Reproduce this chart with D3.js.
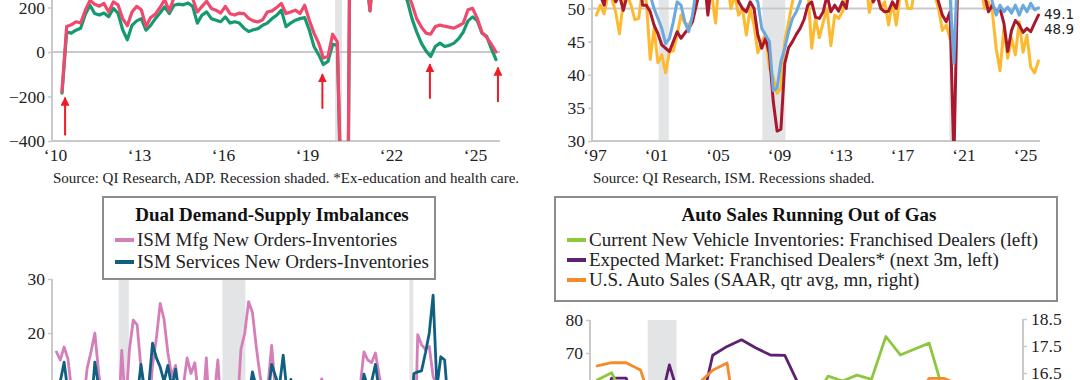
<!DOCTYPE html>
<html>
<head>
<meta charset="utf-8">
<script src="https://cdn.jsdelivr.net/npm/d3@7"></script>
<style>
  body { margin: 0; background: #fff; }
  svg { display: block; }
</style>
</head>
<body>
<svg width="1080" height="380"></svg>
<script>
// ---- top left: ADP payrolls (bimonthly points from 2010.25)
const adpStart = 2010.25, adpStep = 1 / 6;
const adpTotal = [-178, 115, 122, 136, 130, 188, 232, 215, 206, 218, 180, 225, 212, 150, 118, 180,
  205, 190, 115, 155, 170, 200, 235, 185, 245, 260, 250, 265, 240, 180, 205, 228, 196, 188, 175,
  205, 172, 166, 175, 173, 151, 140, 135, 145, 180, 185, 200, 218, 173, 180, 188, 173, 210, 143,
  85, 40, -27, -20, 80, 45, -800, -1500, 1500, 700, 450, 400, 185, 450, 430, 380, 420, 350, 330,
  300, 270, 215, 150, 112, 85, 80, 114, 121, 116, 112, 107, 118, 130, 190, 196, 150, 88, 66, 35, 0];
const adpExEdHealth = [-185, 90, 85, 98, 107, 170, 210, 173, 166, 175, 158, 196, 175, 100, 55, 120,
  140, 150, 98, 120, 150, 175, 203, 173, 210, 215, 212, 220, 205, 130, 166, 180, 150, 143, 136,
  158, 130, 136, 130, 107, 92, 100, 105, 120, 130, 150, 165, 188, 114, 130, 143, 150, 155, 98,
  25, -12, -56, -42, 35, 30, -850, -1550, 1400, 650, 420, 380, 185, 420, 400, 350, 390, 320, 300,
  270, 230, 150, 90, 40, 5, -20, 25, 40, 25, 30, 40, 60, 90, 140, 158, 140, 85, 70, 15, -34];
// [date, arrow head value, arrow tail value]
const adpArrows = [[2010.36, -205, -375], [2019.55, -100, -255], [2023.39, -55, -210], [2025.82, -70, -225]];
const adpTicksX = [2010, 2013, 2016, 2019, 2022, 2025];
const adpTicksY = [-400, -200, 0, 200];
const adpRecessions = [[2020.0, 2020.25]];

// ---- top right: ISM (quarterly from 1997)
const ismStart = 1997.125, ismStep = 0.25;
const ismYellow = [49.0, 50.5, 49.2, 52.0, 51.5, 49.5, 46.2, 51.0, 52.0, 50.5, 48.3, 48.5,
  53.0, 51.0, 42.3, 47.0, 41.8, 43.0, 40.3, 43.5, 43.6, 46.0, 49.0, 47.8, 47.5, 48.5, 51.0, 53.0,
  56.0, 54.0, 52.0, 47.8, 55.0, 53.0, 54.0, 50.0, 52.0, 49.0, 50.0, 46.0, 50.0, 47.5, 43.3, 45.0,
  46.0, 41.0, 39.6, 37.2, 38.0, 45.0, 48.0, 51.0, 53.0, 55.0, 52.0, 53.0, 44.0, 48.5, 45.6, 47.9,
  50.0, 44.4, 49.0, 48.5, 49.5, 52.0, 53.0, 55.0, 51.5, 54.0, 55.0, 49.4, 52.0, 53.0, 50.0, 51.0,
  47.5, 51.0, 47.5, 52.0, 53.0, 50.0, 50.0, 54.0, 54.0, 53.0, 55.0, 52.0, 52.0, 50.0, 46.7, 47.5,
  45.4, 44.0, 52.0, 54.0, 55.0, 56.0, 53.0, 54.0, 53.0, 50.0, 51.0, 49.5, 44.0, 40.6, 47.0, 42.5,
  45.5, 43.0, 48.0, 43.4, 46.0, 41.1, 40.3, 42.1];
const ismRed = [53, 52, 50.5, 54, 53, 51, 52, 49.7, 52, 54, 55, 56, 50.5, 50.5, 49.5, 47.5,
  46.2, 44.5, 44.0, 43.5, 45.0, 46.5, 45.5, 46.3, 47.0, 48.0, 50.5, 53.0, 55.0, 49.0, 54.0, 56.0,
  55.0, 52.0, 54.0, 55.0, 53.0, 51.0, 50.0, 49.5, 51.0, 50.0, 46.0, 44.0, 45.5, 43.2, 36.0, 31.5,
  31.8, 41.7, 44.1, 45.0, 46.1, 47.0, 48.3, 50.5, 51.0, 48.7, 48.5, 49.5, 52.0, 49.5, 50.5, 49.6,
  51.0, 50.0, 54.0, 55.0, 53.0, 55.0, 56.0, 54.0, 51.0, 52.0, 50.0, 49.5, 49.6, 51.0, 50.0, 53.0,
  56.0, 55.0, 57.0, 58.0, 58.0, 58.0, 57.0, 55.0, 53.0, 51.0, 49.0, 48.0, 49.5, 27.0, 55.0, 58.0,
  60.0, 61.0, 59.0, 59.0, 57.0, 52.0, 49.5, 50.5, 49.5, 50.0, 47.8, 43.5, 46.7, 48.2, 47.5, 46.4,
  47.0, 46.5, 47.8, 49.0];
const ismBlue = [55, 56, 54, 55, 56, 55, 53, 54, 55, 56, 57, 58, 58, 57, 52, 50,
  48.5, 47, 44.7, 45.5, 48, 51, 50.5, 48, 46.5, 49, 53, 55, 56, 57, 56, 57, 57, 56, 57, 56,
  55, 54, 53, 52, 52, 52, 51, 47, 46, 45, 37.6, 38, 42, 44, 46.5, 48.5, 49.5, 51, 54, 55,
  55, 54, 53, 53, 54, 53, 53, 54, 55, 54, 55, 55, 54, 56, 57, 57, 56, 56, 57, 55, 54, 53, 52, 55,
  56, 56, 57, 56, 58, 58, 58, 56, 55, 55, 53, 53, 52, 41.7, 57, 56, 58, 62, 61, 62, 58, 55, 54, 51,
  49.0, 50.5, 49.5, 50.2, 49.3, 50.5, 49.0, 50.5, 49.5, 50.8, 49.8, 50.1];
const ismTicksX = [1997, 2001, 2005, 2009, 2013, 2017, 2021, 2025];
const ismTicksY = [30, 35, 40, 45, 50];
const recessions = [[2001.17, 2001.83], [2007.92, 2009.42], [2020.08, 2020.33]];
const ismEndLabels = ["49.1", "48.9"];

// ---- bottom left: new orders minus inventories (quarterly from 1997)
const mfgNoInv = [16.5, 15.0, 17.4, 15.2, 9, 6, 4, 7, 13.5, 16.5, 20.0, 12.5, 8, 5, 2, -2,
  2, 16.8, 6, 17, 22.4, 21.5, 13.5, 9, 5, 14, 19, 25.5, 22.5, 16.3, 12, 14, 8, 10, 15.4, 12.5,
  14.5, 8, 5, 15.4, 3, 8, 15.0, 4, 2, -3, -6, 5, 17, 20, 25.8, 23.8, 17.4, 12, 8, 10,
  17.7, 9, 4, 8, 11, 5, 2, 6, 9, 8, 11, 10, 9, 11.5, 10, 8, 4, 2, 5, 1, 6, 8, 4, 10,
  16.5, 15, 14.5, 16.3, 12, 9, 10, 6, 2, 0, -2, 1, 3, -8, 19.7, 17.8, 17, 17.5, 12, 10,
  8, 3, -3, -5, -4, -6, -3, 0, 2, -2, 1, -3, 4, 2, 0, 1];
const svcNoInv = [10, 11, 14.6, 9, 5, 7, 4, 6, 8, 6, 14.6, 10, 6, 3, 2, 0,
  -2, -4, 0, 3, 6, 8, 14.2, 9, 10, 18.1, 15.4, 13.7, 11, 14.0, 10, 13.3, 8, 7, 6, 9,
  5, 3, 6, 4, 2, 5, 3, 1, -2, -4, -8, -6, -3, 4, 8, 12.8, 10, 9, 11, 8,
  14.2, 12, 10, 15.9, 9, 11.4, 6, 7, 8, 10, 9, 11, 9, 10, 8, 11, 7, 9, 10, 8, 6, 8, 9, 7,
  12.4, 10, 11, 14.2, 9, 10, 8, 7, 6, 5, 3, 4, 2, 12.5, 12.8, 13, 16.3, 20, 27, 10,
  15.6, 15, 6, 4, 3, 5, 2, 4, 1, 3, 2, 0, 2, 1, 3, 2];
const imbTicksY = [10, 20, 30];
const imbLegend = ["ISM Mfg New Orders-Inventories", "ISM Services New Orders-Inventories"];

// ---- bottom right: autos (quarterly from 2019Q1)
const autoStart = 2019.125, autoStep = 0.25;
const autoInventories = [61.8, 64.0, 55, 50, 45, 30, 25, 22, 20, 15, 12, 14, 18, 25, 35, 56,
  63.0, 61.5, 63.3, 62.0, 75, 69.4, 71.2, 73, 58, 52, 50];
const autoExpected = [50, 62.4, 62.4, 52, 48, 66.4, 52, 50, 69.3, 72, 74, 71.5, 69.4, 69.3, 60, 55,
  52, 50, 48, 50, 52, 50, 51, 54, 55, 50, 48];
const autoSales = [16.76, 16.88, 16.88, 16.61, 15.0, 11.3, 15.3, 16.1, 16.6, 16.87, 13.3, 12.7,
  14.0, 13.4, 13.6, 14.1, 15.0, 15.8, 15.6, 15.5, 15.5, 15.7, 15.5, 16.3, 16.3, 16.1, 16.1];
const autoTicksLeft = [60, 70, 80];
const autoTicksRight = [16.5, 17.5, 18.5];
const autoRecessions = [[2020.0, 2020.5]];
const autoLegend = ["Current New Vehicle Inventories: Franchised Dealers (left)",
  "Expected Market: Franchised Dealers* (next 3m, left)",
  "U.S. Auto Sales (SAAR, qtr avg, mn, right)"];

const serif = "'Liberation Serif', 'Times New Roman', serif";
const sans = "'DejaVu Sans', Verdana, sans-serif";
const axisGray = "#c9c9c9";
const shadeGray = "#e3e4e6";

const svg = d3.select("svg");

function series(values, start, step) {
  return values.map((v, i) => ({ t: start + i * step, v: v }));
}

function clip(id, x0, y0, x1, y1) {
  svg.append("clipPath").attr("id", id)
    .append("rect").attr("x", x0).attr("y", y0).attr("width", x1 - x0).attr("height", y1 - y0);
  return `url(#${id})`;
}

function styleAxis(g, size) {
  g.select(".domain").attr("stroke", axisGray).attr("stroke-width", 2);
  g.selectAll(".tick line").attr("stroke", axisGray).attr("stroke-width", 1.5);
  g.selectAll(".tick text").attr("fill", "#222")
    .style("font-family", serif).style("font-size", size || "17.5px");
}

function yAxisLeft(scale, ticks, x, y0, y1) {
  let ax = d3.axisLeft(scale).tickValues(ticks).tickSize(4).tickPadding(3).tickSizeOuter(0);
  let g = svg.append("g").attr("transform", `translate(${x},0)`).call(ax);
  styleAxis(g);
  g.select(".domain").attr("d", `M0,${y0}V${y1}`);
  return g;
}

function yearLabels(scale, ticks, y) {
  let g = svg.append("g").attr("transform", `translate(0,${y})`)
    .call(d3.axisBottom(scale).tickValues(ticks).tickSize(0).tickPadding(8)
      .tickFormat(d => "\u2018" + String(d).slice(2)));
  g.select(".domain").remove();
  styleAxis(g);
}

function hline(x0, x1, y) {
  svg.append("line").attr("x1", x0).attr("x2", x1).attr("y1", y).attr("y2", y)
    .attr("stroke", axisGray).attr("stroke-width", 2);
}

function shade(xs, ranges, y0, y1) {
  svg.append("g").selectAll("rect").data(ranges).join("rect")
    .attr("x", d => xs(d[0])).attr("width", d => xs(d[1]) - xs(d[0]))
    .attr("y", y0).attr("height", y1 - y0).attr("fill", shadeGray);
}

function drawLine(data, xs, ys, color, width, clipUrl) {
  svg.append("path").datum(data)
    .attr("fill", "none").attr("stroke", color).attr("stroke-width", width)
    .attr("stroke-linejoin", "round").attr("stroke-linecap", "round")
    .attr("clip-path", clipUrl)
    .attr("d", d3.line().x(d => xs(d.t)).y(d => ys(d.v)));
}

function source(txt, x) {
  svg.append("text").attr("x", x).attr("y", 183).text(txt)
    .attr("fill", "#222").style("font-family", serif).style("font-size", "15px");
}

function legendBox(x0, y0, x1, y1, title, labels, colors, rowY) {
  svg.append("rect").attr("x", x0).attr("y", y0).attr("width", x1 - x0).attr("height", y1 - y0)
    .attr("fill", "#fff").attr("stroke", "#8c8c8c").attr("stroke-width", 2);
  svg.append("text").attr("x", (x0 + x1) / 2 + 3).attr("y", y0 + 24).attr("text-anchor", "middle")
    .text(title).attr("fill", "#111").style("font-family", serif)
    .style("font-size", "19px").style("font-weight", "bold");
  labels.forEach((lab, i) => {
    let y = y0 + 49 + i * rowY;
    svg.append("line").attr("x1", x0 + 12).attr("x2", x0 + 31).attr("y1", y - 6).attr("y2", y - 6)
      .attr("stroke", colors[i]).attr("stroke-width", 4);
    svg.append("text").attr("x", x0 + 34).attr("y", y).text(lab)
      .attr("fill", "#222").style("font-family", serif).style("font-size", "19px");
  });
}

// ================= top left =================
{
  const xs = d3.scaleLinear().domain([2010, 2025]).range([55, 475]);
  const ys = d3.scaleLinear().domain([-400, 400]).range([141, -37]);
  const c = clip("c1", 52, -40, 502, 141);
  shade(xs, adpRecessions, -40, 141);
  hline(52, 500, ys(0));
  hline(52, 500, 141);
  yAxisLeft(ys, adpTicksY, 52, -40, 141);
  yearLabels(xs, adpTicksX, 141);
  drawLine(series(adpExEdHealth, adpStart, adpStep), xs, ys, "#159a6f", 3.2, c);
  drawLine(series(adpTotal, adpStart, adpStep), xs, ys, "#ef4a6d", 3.2, c);

  svg.append("defs").append("marker").attr("id", "arrowhead")
    .attr("viewBox", "0 0 10 10").attr("refX", 9).attr("refY", 5)
    .attr("markerUnits", "userSpaceOnUse").attr("markerWidth", 9).attr("markerHeight", 9)
    .attr("orient", "auto")
    .append("path").attr("d", "M0,0L10,5L0,10z").attr("fill", "#ee1c25");
  svg.append("g").selectAll("line").data(adpArrows).join("line")
    .attr("x1", d => xs(d[0])).attr("x2", d => xs(d[0]))
    .attr("y1", d => ys(d[2])).attr("y2", d => ys(d[1]))
    .attr("stroke", "#ee1c25").attr("stroke-width", 2)
    .attr("marker-end", "url(#arrowhead)");
  source("Source: QI Research, ADP. Recession shaded. *Ex-education and health care.", 53);
}

// ================= top right =================
{
  const xs = d3.scaleLinear().domain([1997, 2025]).range([594.5, 1025]);
  const ys = d3.scaleLinear().domain([30, 60]).range([141, -57.75]);
  const c = clip("c2", 592, -60, 1042, 141);
  shade(xs, recessions, -60, 141);
  hline(592, 1040, ys(50));
  hline(592, 1040, 141);
  yAxisLeft(ys, ismTicksY, 592, -60, 141);
  yearLabels(xs, ismTicksX, 141);
  drawLine(series(ismYellow, ismStart, ismStep), xs, ys, "#fdb930", 3, c);
  drawLine(series(ismRed, ismStart, ismStep), xs, ys, "#a8192e", 3, c);
  drawLine(series(ismBlue, ismStart, ismStep), xs, ys, "#6aa9dd", 3, c);
  const nudge = [0, 13];
  svg.append("g").selectAll("text").data(ismEndLabels).join("text")
    .attr("x", 1044).attr("y", (d, i) => ys(+d) + nudge[i]).attr("dy", "0.35em")
    .text(d => d).attr("fill", "#222")
    .style("font-family", sans).style("font-size", "13.5px");
  source("Source: QI Research, ISM. Recessions shaded.", 593);
}

// ================= bottom left =================
{
  const xs = d3.scaleLinear().domain([1997, 2025]).range([54.5, 485]);
  const ys = d3.scaleLinear().domain([0, 30]).range([441, 279]);
  const c = clip("c3", 52, 270, 502, 441);
  shade(xs, recessions, 279, 441);
  yAxisLeft(ys, imbTicksY, 52, 279, 441);
  drawLine(series(mfgNoInv, ismStart, ismStep), xs, ys, "#d57fba", 2.8, c);
  drawLine(series(svcNoInv, ismStart, ismStep), xs, ys, "#0f5f80", 2.8, c);
  legendBox(103, 197, 435, 279, "Dual Demand-Supply Imbalances", imbLegend,
    ["#d57fba", "#0f5f80"], 22);
}

// ================= bottom right =================
{
  const xs = d3.scaleLinear().domain([2019, 2026.5]).range([590, 1023]);
  const yl = d3.scaleLinear().domain([40, 80]).range([452, 320]);
  const yr = d3.scaleLinear().domain([13.5, 18.5]).range([454, 319]);
  const c = clip("c4", 590, 300, 1023, 452);
  shade(xs, autoRecessions, 320, 452);
  yAxisLeft(yl, autoTicksLeft, 590, 320, 452);
  let gr = svg.append("g").attr("transform", "translate(1023,0)")
    .call(d3.axisRight(yr).tickValues(autoTicksRight).tickSize(4).tickPadding(4)
      .tickSizeOuter(0).tickFormat(d3.format(".1f")));
  styleAxis(gr);
  gr.select(".domain").attr("d", "M0,319V454");
  drawLine(series(autoExpected, autoStart, autoStep), xs, yl, "#5c2171", 2.8, c);
  drawLine(series(autoInventories, autoStart, autoStep), xs, yl, "#8dc63f", 2.8, c);
  drawLine(series(autoSales, autoStart, autoStep), xs, yr, "#f68a2b", 2.8, c);
  legendBox(555, 197, 1057, 301, "Auto Sales Running Out of Gas", autoLegend,
    ["#8dc63f", "#5c2171", "#f68a2b"], 20);
}
</script>
</body>
</html>
